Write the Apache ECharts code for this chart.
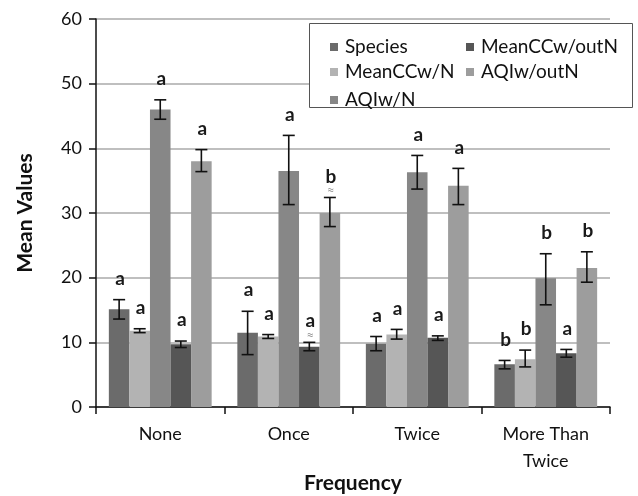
<!DOCTYPE html>
<html>
<head>
<meta charset="utf-8">
<script src="https://cdn.jsdelivr.net/npm/echarts@6/dist/echarts.min.js"></script>
<style>html,body{margin:0;padding:0;background:#fff}#c{width:638px;height:496px}</style>
</head>
<body>
<div id="c"></div>
<script>
var categories = ['None', 'Once', 'Twice', 'More Than\nTwice'];
var seriesNames = ['Species', 'MeanCCw/N', 'AQIw/N', 'MeanCCw/outN', 'AQIw/outN'];
var seriesColors = ['#6b6b6b', '#b3b3b3', '#878787', '#565656', '#9d9d9d'];

var species     = [15.1, 11.5, 9.8, 6.6];
var meanCCwN    = [11.8, 10.9, 11.2, 7.4];
var aqiwN       = [46.0, 36.5, 36.3, 19.9];
var meanCCwOutN = [9.7, 9.3, 10.7, 8.3];
var aqiwOutN    = [38.0, 30.0, 34.2, 21.5];

var speciesLow  = [13.6, 8.1, 8.7, 5.9],  speciesHigh  = [16.6, 14.8, 10.9, 7.2];
var ccwNLow     = [11.5, 10.6, 10.5, 6.2], ccwNHigh    = [12.1, 11.2, 12.0, 8.8];
var aqiwNLow    = [44.5, 31.3, 33.7, 15.8], aqiwNHigh  = [47.5, 42.0, 38.9, 23.7];
var ccwOutLow   = [9.2, 8.7, 10.3, 7.7],  ccwOutHigh   = [10.2, 10.0, 11.0, 8.9];
var aqiwOutLow  = [36.4, 27.9, 31.3, 19.3], aqiwOutHigh = [39.8, 32.4, 36.9, 24.0];

var speciesSig  = ['a', 'a', 'a', 'b'];
var ccwNSig     = ['a', 'a', 'a', 'b'];
var aqiwNSig    = ['a', 'a', 'a', 'b'];
var ccwOutSig   = ['a', 'a', 'a', 'a'];
var aqiwOutSig  = ['a', 'b', 'a', 'b'];
var ccwOutTilde  = [false, true, false, false];
var aqiwOutTilde = [false, true, false, false];

var yTicks = [0, 10, 20, 30, 40, 50, 60];

var values = [species, meanCCwN, aqiwN, meanCCwOutN, aqiwOutN];
var lows = [speciesLow, ccwNLow, aqiwNLow, ccwOutLow, aqiwOutLow];
var highs = [speciesHigh, ccwNHigh, aqiwNHigh, ccwOutHigh, aqiwOutHigh];
var sigs = [speciesSig, ccwNSig, aqiwNSig, ccwOutSig, aqiwOutSig];
var tildes = [null, null, null, ccwOutTilde, aqiwOutTilde];

var FONT = 'Lato';
var GAP = 0.2;

var errData = [];
for (var s = 0; s < 5; s++) {
  for (var c = 0; c < categories.length; c++) {
    errData.push([c, s, lows[s][c], highs[s][c], sigs[s][c], tildes[s] ? tildes[s][c] : false]);
  }
}

var series = seriesNames.map(function (n, i) {
  return {
    name: n, type: 'bar', data: values[i],
    barGap: '0%', barCategoryGap: (GAP * 100) + '%',
    itemStyle: { color: seriesColors[i] }, z: 2
  };
});

series.push({
  type: 'custom',
  z: 5,
  data: errData,
  renderItem: function (params, api) {
    var cat = api.value(0), s = api.value(1);
    var lo = api.value(2), hi = api.value(3);
    var item = errData[params.dataIndex];
    var band = api.size([1, 0])[0];
    var bw = band * (1 - GAP) / 5;
    var x = api.coord([cat, 0])[0] + (s - 2) * bw;
    var yLo = api.coord([cat, lo])[1];
    var yHi = api.coord([cat, hi])[1];
    var cap = 6;
    var st = { stroke: '#111', lineWidth: 1.6 };
    var children = [
      { type: 'line', shape: { x1: x, y1: yLo, x2: x, y2: yHi }, style: st },
      { type: 'line', shape: { x1: x - cap, y1: yLo, x2: x + cap, y2: yLo }, style: st },
      { type: 'line', shape: { x1: x - cap, y1: yHi, x2: x + cap, y2: yHi }, style: st },
      { type: 'text', style: { text: item[4], x: x + 1, y: yHi - 21, align: 'center', verticalAlign: 'middle',
        font: 'bold 19px ' + FONT, fill: '#1a1a1a' } }
    ];
    if (item[5]) {
      children.push({ type: 'text', style: { text: '≈', x: x + 1, y: yHi - 7, align: 'center', verticalAlign: 'middle',
        font: '13px ' + FONT, fill: '#999' } });
    }
    return { type: 'group', children: children };
  }
});

var chart = echarts.init(document.getElementById('c'), null, { renderer: 'canvas' });
chart.setOption({
  animation: false,
  backgroundColor: '#fff',
  grid: { left: 96, right: 28, top: 19, bottom: 89, containLabel: false, outerBoundsMode: 'none' },
  xAxis: {
    type: 'category', data: categories,
    name: 'Frequency', nameLocation: 'middle', nameGap: 66, nameMoveOverlap: false,
    nameTextStyle: { fontFamily: FONT, fontWeight: 'bold', fontSize: 21, color: '#111' },
    axisLine: { lineStyle: { color: '#111', width: 1.5 } },
    axisTick: { show: true, length: 7, lineStyle: { color: '#111', width: 1.5 } },
    axisLabel: { fontFamily: FONT, fontSize: 18, color: '#111', margin: 14, lineHeight: 27, interval: 0 }
  },
  yAxis: {
    type: 'value', min: yTicks[0], max: yTicks[yTicks.length - 1], interval: 10,
    name: 'Mean Values', nameLocation: 'middle', nameGap: 60, nameRotate: 90, nameMoveOverlap: false,
    nameTextStyle: { fontFamily: FONT, fontWeight: 'bold', fontSize: 21, color: '#111' },
    axisLine: { show: true, lineStyle: { color: '#111', width: 1.5 } },
    axisTick: { show: true, length: 7, lineStyle: { color: '#111', width: 1.5 } },
    axisLabel: { fontFamily: FONT, fontSize: 18, color: '#111', margin: 14 },
    splitLine: { show: true, lineStyle: { color: '#aaaaaa', width: 1.5 } }
  },
  graphic: [{
    type: 'rect', left: 309, top: 23, z: 3,
    shape: { width: 323, height: 84 },
    style: { fill: '#fff', stroke: '#555', lineWidth: 1 }
  }],
  legend: [
    { left: 325, top: 32, orient: 'vertical', itemGap: 5, itemWidth: 8, itemHeight: 8, z: 10,
      icon: 'rect', data: ['Species', 'MeanCCw/N'],
      textStyle: { fontFamily: FONT, fontSize: 19, color: '#111', lineHeight: 20, padding: [0, 0, 0, 2] } },
    { left: 461, top: 32, orient: 'vertical', itemGap: 5, itemWidth: 8, itemHeight: 8, z: 10,
      icon: 'rect', data: ['MeanCCw/outN', 'AQIw/outN'],
      textStyle: { fontFamily: FONT, fontSize: 19, color: '#111', lineHeight: 20, padding: [0, 0, 0, 2] } },
    { left: 325, top: 85, orient: 'vertical', itemWidth: 8, itemHeight: 8, z: 10,
      icon: 'rect', data: ['AQIw/N'],
      textStyle: { fontFamily: FONT, fontSize: 19, color: '#111', lineHeight: 20, padding: [0, 0, 0, 2] } }
  ],
  series: series
});
</script>
</body>
</html>
